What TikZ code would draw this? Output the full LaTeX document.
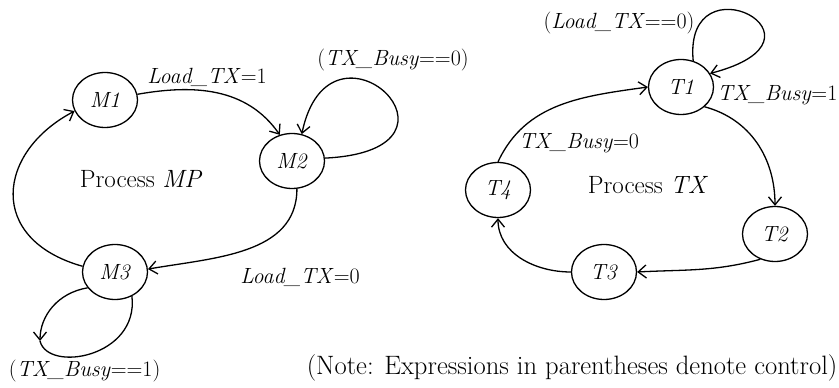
\documentclass[tikz,border=0pt]{standalone}
\usepackage{tikz}
\usetikzlibrary{arrows.meta,positioning,shapes.geometric}

\begin{document}
\begin{tikzpicture}[
    x=1pt, y=1pt,
    every node/.style={font=\fontsize{22}{26}\selectfont},
    state/.style={draw, ellipse, line width=1.3pt, minimum width=65pt, minimum height=55pt, inner sep=0pt},
    plain/.style={font=\fontsize{25}{30}\selectfont},
    >={Straight Barb[length=8pt, width=13pt]},
    line width=1.3pt
]
\useasboundingbox (0,0) rectangle (839,388);

% Process MP
\node[state] (M1) at (105,288) {\textit{M1}};
\node[state] (M2) at (292,227) {\textit{M2}};
\node[state] (M3) at (115,116) {\textit{M3}};
\node[plain] (mp) at (141,209) {Process \textit{MP}};

\draw[->] (M1.10) to[out=10, in=125] (M2.115);
\draw[->] (M2.5) .. controls +(164,8) and +(28,134) .. (M2.70);
\draw[->] (M2.-80) to[out=-90, in=10] (M3.5);
\draw[->] (M3.170) .. controls +(-96,27) and +(-78,-41) .. (M1.200);
\coordinate (m3turn) at (40,47);
\draw[->] (M3.210) .. controls +(-30,-5) and +(0,25) .. (m3turn);
\draw (m3turn) .. controls +(8,-32) and +(7,-61) .. (M3.-55);

\node (ldon) at (207,311) {\textit{Load\_TX}=1};
\node (busyzero) at (393,328) {(\textit{TX\_Busy}==0)};
\node (ldoff) at (300,111) {\textit{Load\_TX}=0};
\node[anchor=west] (busyone) at (5,17) {(\textit{TX\_Busy}==1)};

% Process TX
\node[state] (T1) at (681,301) {\textit{T1}};
\node[state] (T2) at (775,154) {\textit{T2}};
\node[state] (T3) at (604,116) {\textit{T3}};
\node[state] (T4) at (498,198) {\textit{T4}};
\node[plain] (tx) at (648,203) {Process \textit{TX}};

\draw[->] (T1.65) .. controls +(-10,105) and +(135,35) .. (T1.25);
\draw[->] (T1.-40) to[out=-15, in=90] (T2.north);
\draw[->] (T2.240) to[out=195, in=3] (T3.east);
\draw[->] (T3.west) to[out=180, in=-90] (T4.south);
\draw[->] (T4.north) to[out=65, in=188] (T1.west);

\node (ldwait) at (619,365) {(\textit{Load\_TX}==0)};
\node[anchor=east, inner sep=1pt] (txon) at (839,293) {\textit{TX\_Busy}=1};
\node (txoff) at (579,245) {\textit{TX\_Busy}=0};

\node[anchor=east, inner sep=1pt, font=\fontsize{26.6}{30}\selectfont] (note) at (839,20) {(Note: Expressions in parentheses denote control)};

\end{tikzpicture}
\end{document}
